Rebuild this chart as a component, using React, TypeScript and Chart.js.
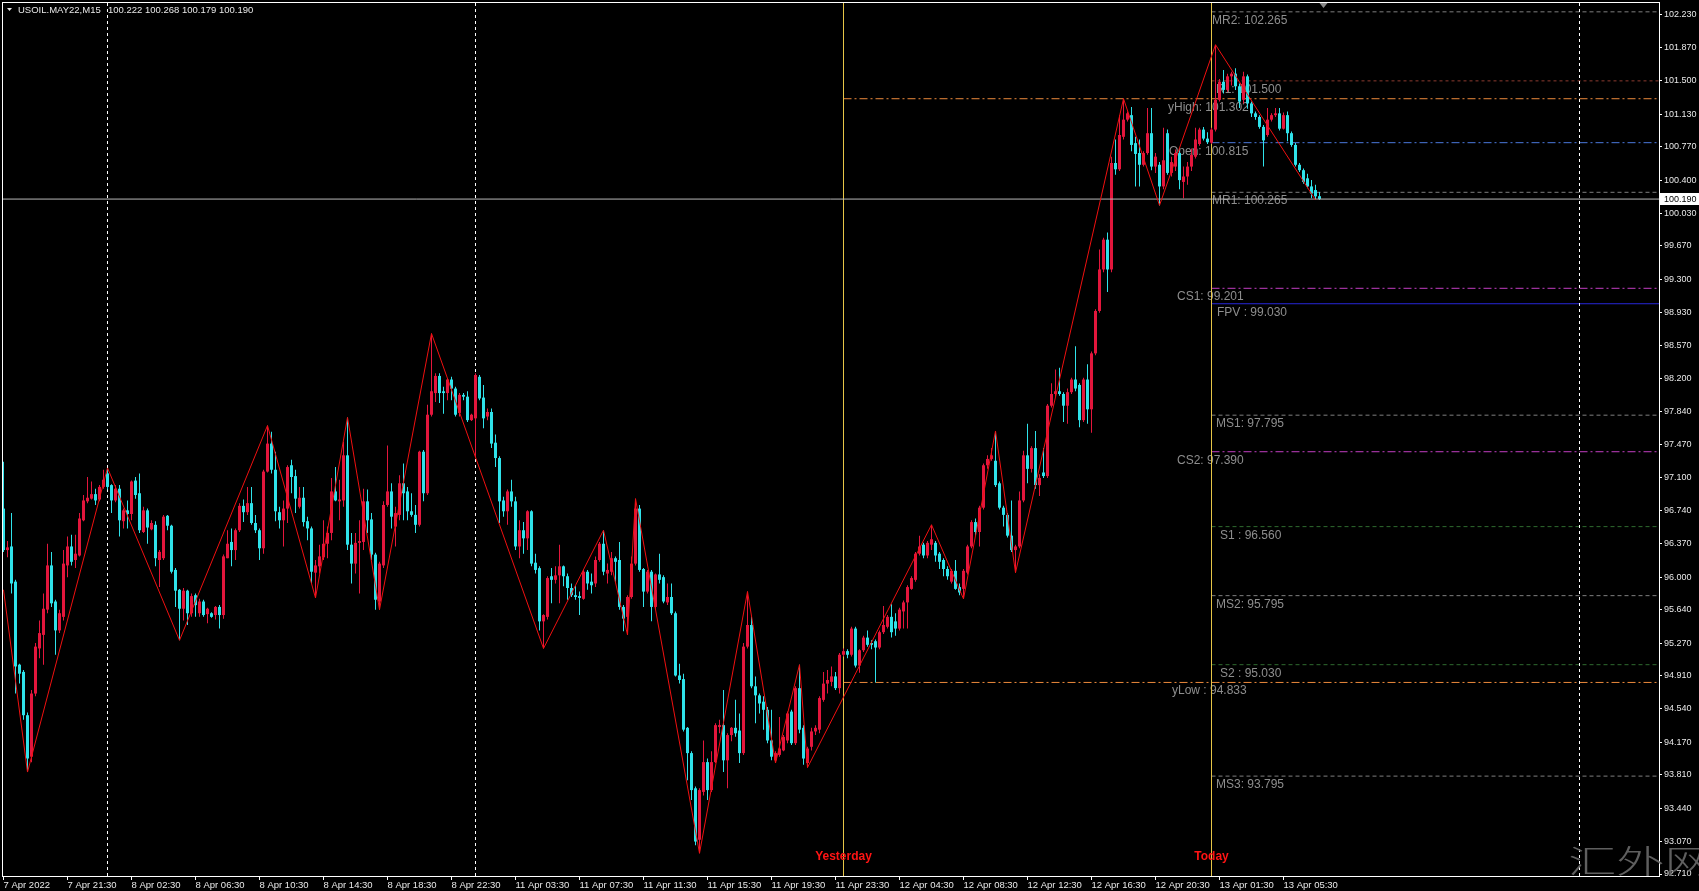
import React, { useEffect, useRef } from "react";
import { Chart, registerables } from "chart.js";

Chart.register(...registerables);

// ---------- DATA: M15 candles, [open, high, low, close] ----------
const bars7Apr: number[][] = [
  [96.76, 97.28, 96.28, 96.3], [96.3, 96.4, 96.22, 96.33], [96.34, 96.71, 95.82, 95.93], [95.95, 95.97, 94.71, 95.01],
  [95.03, 95.04, 94.82, 94.93], [94.95, 94.97, 94.42, 94.47], [94.47, 94.5, 93.84, 93.99], [94.01, 94.75, 93.95, 94.71],
  [94.71, 95.27, 94.68, 95.23], [95.21, 95.52, 95.1, 95.38], [95.36, 95.82, 95.03, 95.65], [95.64, 96.37, 95.6, 96.13],
  [96.13, 96.28, 95.67, 95.71], [95.73, 95.75, 95.14, 95.41], [95.41, 95.64, 95.38, 95.6], [95.56, 96.3, 95.52, 96.15],
  [96.13, 96.45, 96.0, 96.34], [96.34, 96.47, 96.13, 96.17], [96.19, 96.47, 96.1, 96.26], [96.24, 96.71, 96.23, 96.65],
  [96.63, 96.91, 96.62, 96.85], [96.84, 97.11, 96.82, 96.88], [96.87, 97.06, 96.86, 96.92], [96.92, 96.98, 96.8, 96.85],
  [96.86, 97.02, 96.84, 97.0], [97.0, 97.19, 96.98, 97.08],
];

const bars8Apr: number[][] = [
  [97.15, 97.21, 96.97, 97.0], [97.02, 97.03, 96.71, 96.85], [96.85, 97.02, 96.83, 96.98], [96.98, 97.02, 96.45, 96.63],
  [96.62, 96.76, 96.54, 96.74], [96.74, 96.85, 96.54, 96.7], [96.7, 97.07, 96.63, 97.06], [97.07, 97.11, 96.87, 96.91],
  [96.93, 97.15, 96.49, 96.52], [96.5, 96.78, 96.49, 96.74], [96.74, 96.76, 96.37, 96.55], [96.53, 96.63, 96.52, 96.6],
  [96.58, 96.62, 96.12, 96.21], [96.19, 96.3, 95.89, 96.28], [96.21, 96.69, 96.19, 96.67], [96.68, 96.69, 96.52, 96.57],
  [96.57, 96.58, 96.04, 96.06], [96.08, 96.1, 95.67, 95.85], [95.86, 95.87, 95.3, 95.65], [95.65, 95.88, 95.52, 95.85],
  [95.85, 95.86, 95.47, 95.6], [95.6, 95.82, 95.56, 95.79], [95.8, 95.82, 95.56, 95.69], [95.6, 95.76, 95.56, 95.73],
  [95.73, 95.75, 95.56, 95.58], [95.59, 95.66, 95.49, 95.65], [95.6, 95.61, 95.55, 95.56], [95.58, 95.68, 95.53, 95.67],
  [95.67, 95.69, 95.43, 95.58], [95.58, 96.25, 95.54, 96.23], [96.21, 96.52, 96.21, 96.37], [96.39, 96.54, 96.12, 96.3],
  [96.3, 96.54, 96.19, 96.52], [96.52, 96.82, 96.5, 96.79], [96.79, 96.86, 96.61, 96.72], [96.72, 97.0, 96.69, 96.82],
  [96.82, 97.0, 96.58, 96.6], [96.6, 96.69, 96.49, 96.52], [96.52, 96.54, 96.19, 96.32], [96.32, 97.19, 96.26, 97.17],
  [97.17, 97.68, 97.16, 97.48], [97.48, 97.61, 97.15, 97.19], [97.19, 97.39, 96.62, 96.73], [96.72, 96.78, 96.54, 96.63],
  [96.63, 96.85, 96.34, 96.76], [96.76, 97.24, 96.6, 97.22], [97.24, 97.3, 96.93, 97.11], [97.12, 97.19, 96.71, 96.87],
  [96.78, 97.0, 96.76, 96.88], [96.88, 97.0, 96.56, 96.61], [96.62, 96.67, 96.41, 96.54], [96.54, 96.56, 95.93, 96.06],
  [96.05, 96.19, 95.77, 96.13], [96.12, 96.36, 96.04, 96.23], [96.22, 96.63, 96.19, 96.37], [96.37, 96.56, 96.21, 96.49],
  [96.49, 97.1, 96.41, 96.95], [96.95, 97.22, 96.84, 96.85], [96.84, 97.08, 96.63, 96.86], [96.85, 97.5, 96.78, 97.35],
  [97.35, 97.77, 96.3, 96.36], [96.36, 96.49, 95.93, 96.15], [96.15, 96.49, 96.04, 96.38], [96.38, 96.63, 95.82, 96.4],
  [96.39, 96.98, 96.3, 96.84], [96.84, 96.97, 96.49, 96.63], [96.64, 96.71, 96.19, 96.25], [96.25, 96.27, 95.64, 95.75],
  [95.73, 96.17, 95.64, 96.15], [96.13, 96.84, 96.1, 96.8], [96.8, 97.46, 96.78, 96.95], [96.95, 97.04, 96.54, 96.67],
  [96.56, 96.78, 96.34, 96.71], [96.69, 97.13, 96.63, 97.04], [97.04, 97.26, 96.63, 96.93], [96.95, 97.0, 96.63, 96.73],
  [96.73, 96.93, 96.67, 96.69], [96.69, 96.8, 96.49, 96.58], [96.58, 97.4, 96.56, 97.39], [97.39, 97.41, 96.84, 96.93],
  [96.93, 97.91, 96.91, 97.8], [97.8, 98.7, 97.78, 98.06], [98.04, 98.26, 97.94, 98.23], [98.23, 98.26, 97.93, 98.04],
  [98.06, 98.11, 97.81, 98.04], [98.04, 98.2, 97.96, 98.19], [98.19, 98.22, 97.96, 98.09], [98.09, 98.11, 97.78, 97.8],
  [97.82, 98.04, 97.78, 98.02], [98.02, 98.04, 97.96, 98.0], [98.0, 98.06, 97.72, 97.74], [97.74, 97.81, 97.73, 97.8],
];

const bars11Apr: number[][] = [
  [97.76, 98.26, 97.33, 98.24], [98.22, 98.24, 97.96, 97.98], [97.99, 98.13, 97.65, 97.76], [97.78, 97.87, 97.74, 97.83],
  [97.83, 97.87, 97.43, 97.48], [97.49, 97.58, 97.22, 97.32], [97.32, 97.34, 96.6, 96.84], [96.85, 96.89, 96.67, 96.73],
  [96.73, 96.97, 96.58, 96.95], [96.95, 97.08, 96.78, 96.84], [96.84, 96.89, 96.3, 96.34], [96.34, 96.63, 96.21, 96.52],
  [96.52, 96.61, 96.26, 96.43], [96.43, 96.74, 96.3, 96.73], [96.73, 96.74, 96.12, 96.15], [96.16, 96.26, 96.04, 96.08],
  [96.1, 96.12, 95.41, 95.51], [95.51, 95.59, 95.21, 95.58], [95.56, 96.01, 95.53, 95.99], [96.01, 96.1, 95.71, 95.97],
  [95.97, 96.12, 95.93, 96.02], [96.02, 96.36, 95.71, 96.12], [96.12, 96.13, 95.9, 96.01], [96.01, 96.04, 95.75, 95.88],
  [95.88, 95.93, 95.78, 95.8], [95.8, 95.91, 95.75, 95.78], [95.79, 95.84, 95.58, 95.77], [95.76, 96.08, 95.75, 96.06],
  [96.06, 96.08, 95.86, 95.93], [95.95, 96.04, 95.82, 95.91], [95.93, 96.23, 95.89, 96.19], [96.19, 96.39, 96.17, 96.37],
  [96.37, 96.52, 96.02, 96.06], [96.04, 96.15, 95.93, 96.08], [96.06, 96.28, 96.02, 96.21], [96.21, 96.23, 95.95, 96.17],
  [96.19, 96.39, 95.64, 95.67], [95.67, 95.69, 95.4, 95.54], [95.56, 95.8, 95.36, 95.78], [95.78, 96.23, 95.76, 96.15],
  [96.15, 96.87, 96.13, 96.76], [96.76, 96.8, 96.06, 96.08], [96.09, 96.1, 95.67, 95.84], [95.84, 96.08, 95.82, 96.06],
  [96.06, 96.08, 95.51, 95.67], [95.67, 96.04, 95.65, 96.03], [96.03, 96.26, 95.93, 95.97], [96.0, 96.02, 95.71, 95.73],
  [95.72, 95.93, 95.69, 95.78], [95.78, 95.93, 95.58, 95.6], [95.6, 95.62, 94.9, 94.91], [94.91, 95.04, 94.82, 94.86],
  [94.87, 94.93, 94.29, 94.31], [94.33, 94.34, 93.75, 94.05], [94.05, 94.07, 93.53, 93.64], [93.66, 93.68, 93.03, 93.07],
  [93.09, 93.66, 92.94, 93.64], [93.62, 94.19, 93.58, 93.95], [93.95, 93.99, 93.53, 93.64], [93.64, 94.07, 93.62, 93.95],
  [93.95, 94.38, 93.94, 94.36], [94.34, 94.42, 94.27, 94.36], [94.36, 94.75, 93.84, 93.97], [93.97, 94.27, 93.66, 94.25],
  [94.25, 94.34, 94.18, 94.33], [94.33, 94.64, 94.23, 94.27], [94.3, 94.49, 93.94, 94.05], [94.05, 95.27, 94.03, 95.23],
  [95.23, 95.84, 95.21, 95.47], [95.47, 95.56, 94.77, 94.79], [94.79, 94.9, 94.38, 94.69], [94.69, 94.71, 94.49, 94.6],
  [94.62, 94.68, 94.31, 94.53], [94.53, 94.56, 94.16, 94.19], [94.19, 94.53, 93.97, 94.01], [93.97, 94.07, 93.94, 94.05],
  [94.03, 94.45, 94.01, 94.1], [94.08, 94.25, 94.07, 94.23], [94.19, 94.51, 94.16, 94.49], [94.51, 94.53, 94.14, 94.16],
  [94.16, 94.79, 94.14, 94.77], [94.77, 95.03, 94.27, 94.31], [94.33, 94.36, 93.92, 93.99], [93.94, 94.12, 93.89, 94.1],
  [94.12, 94.33, 94.08, 94.29], [94.29, 94.36, 94.25, 94.33], [94.31, 94.68, 94.27, 94.66], [94.64, 94.95, 94.62, 94.82],
  [94.82, 94.97, 94.71, 94.86], [94.84, 95.01, 94.79, 94.9], [94.9, 94.95, 94.75, 94.77], [94.77, 95.16, 94.71, 95.14],
];

const bars12Apr: number[][] = [
  [95.14, 95.21, 95.12, 95.18], [95.18, 95.2, 95.1, 95.14], [95.14, 95.45, 95.12, 95.43], [95.43, 95.45, 95.0, 95.02],
  [95.02, 95.2, 94.94, 95.19], [95.19, 95.35, 95.17, 95.33], [95.33, 95.41, 95.23, 95.25], [95.27, 95.3, 95.2, 95.25],
  [95.29, 95.31, 94.833, 95.22], [95.22, 95.41, 95.2, 95.39], [95.39, 95.68, 95.37, 95.47], [95.45, 95.58, 95.43, 95.56],
  [95.56, 95.7, 95.33, 95.39], [95.51, 95.6, 95.35, 95.43], [95.43, 95.66, 95.41, 95.64], [95.62, 95.74, 95.43, 95.72],
  [95.72, 95.91, 95.43, 95.89], [95.87, 96.01, 95.86, 95.99], [95.97, 96.28, 95.95, 96.26], [96.26, 96.46, 96.24, 96.34],
  [96.36, 96.38, 96.21, 96.24], [96.24, 96.4, 96.21, 96.38], [96.36, 96.58, 96.3, 96.42], [96.38, 96.4, 96.17, 96.24],
  [96.26, 96.28, 96.09, 96.17], [96.19, 96.21, 96.01, 96.09], [96.09, 96.12, 95.97, 96.01], [95.95, 96.09, 95.93, 96.07],
  [96.07, 96.19, 95.86, 95.87], [95.89, 95.93, 95.8, 95.83], [95.87, 96.09, 95.76, 96.07], [96.05, 96.36, 96.03, 96.34],
  [96.34, 96.63, 96.32, 96.61], [96.61, 96.65, 96.46, 96.5], [96.5, 96.79, 96.34, 96.77], [96.77, 97.26, 96.75, 97.24],
  [97.24, 97.35, 97.2, 97.31], [97.31, 97.43, 97.29, 97.35], [97.29, 97.62, 97.0, 97.02], [97.04, 97.06, 96.75, 96.77],
  [96.77, 96.79, 96.56, 96.69], [96.69, 96.71, 96.44, 96.46], [96.46, 96.85, 96.28, 96.3], [96.3, 96.36, 96.05, 96.34],
  [96.34, 96.95, 96.32, 96.85], [96.85, 97.4, 96.83, 97.35], [97.35, 97.7, 97.04, 97.2], [97.2, 97.45, 97.16, 97.43],
  [97.43, 97.62, 96.98, 97.02], [97.02, 97.14, 96.9, 97.1], [97.16, 97.43, 97.1, 97.12], [97.12, 97.92, 97.1, 97.9],
  [97.9, 98.15, 97.88, 98.03], [98.03, 98.3, 98.0, 98.06], [98.06, 98.32, 98.01, 98.03], [98.03, 98.05, 97.72, 97.9],
  [97.9, 98.09, 97.7, 98.05], [98.05, 98.21, 98.03, 98.19], [98.19, 98.56, 98.06, 98.09], [98.13, 98.15, 97.66, 97.74],
  [97.74, 98.21, 97.72, 98.19], [98.19, 98.36, 97.7, 97.86], [97.86, 98.5, 97.6, 98.48], [98.48, 98.97, 98.46, 98.95],
  [98.95, 99.63, 98.93, 99.41], [99.41, 99.76, 99.38, 99.74], [99.74, 99.82, 99.16, 99.41], [99.41, 100.66, 99.38, 100.59],
  [100.59, 100.85, 100.46, 100.52], [100.52, 101.12, 100.5, 100.9], [100.88, 101.302, 100.85, 101.07], [101.07, 101.16, 101.05, 101.14],
  [101.12, 101.21, 100.72, 100.79], [100.81, 100.88, 100.33, 100.69], [100.7, 100.85, 100.33, 100.57], [100.57, 100.72, 100.55, 100.7],
  [100.7, 101.2, 100.68, 100.92], [100.92, 101.2, 100.51, 100.55], [100.55, 100.7, 100.48, 100.66], [100.57, 100.6, 100.12, 100.33],
  [100.33, 100.98, 100.3, 100.62], [100.92, 100.96, 100.46, 100.48], [100.48, 100.66, 100.44, 100.6], [100.55, 100.74, 100.5, 100.7],
  [100.7, 100.72, 100.3, 100.4], [100.38, 100.55, 100.2, 100.44], [100.44, 100.6, 100.35, 100.55], [100.55, 100.75, 100.5, 100.68],
  [100.66, 100.98, 100.64, 100.85], [100.8, 100.98, 100.78, 100.96], [100.96, 100.99, 100.84, 100.86], [100.86, 100.93, 100.8, 100.82],
];

const bars13Apr: number[][] = [
  [100.815, 100.98, 100.8, 100.96], [100.96, 101.9, 100.94, 101.29], [101.29, 101.52, 101.27, 101.49], [101.49, 101.62, 101.36, 101.4],
  [101.4, 101.58, 101.38, 101.55], [101.55, 101.6, 101.45, 101.58], [101.58, 101.64, 101.4, 101.44], [101.44, 101.47, 101.2, 101.27],
  [101.29, 101.6, 101.25, 101.55], [101.55, 101.57, 101.19, 101.25], [101.25, 101.27, 101.1, 101.14], [101.14, 101.16, 101.07, 101.1],
  [101.1, 101.12, 100.97, 100.99], [100.99, 101.01, 100.55, 100.84], [100.9, 101.2, 100.88, 101.07], [101.07, 101.14, 101.05, 101.12],
  [101.12, 101.2, 101.1, 101.14], [101.14, 101.2, 100.95, 100.97], [100.97, 101.15, 100.96, 101.12], [101.12, 101.16, 100.83, 100.92],
  [100.92, 100.94, 100.77, 100.79], [100.79, 100.81, 100.55, 100.57], [100.57, 100.59, 100.49, 100.51], [100.51, 100.53, 100.36, 100.38],
  [100.42, 100.47, 100.31, 100.33], [100.33, 100.4, 100.2, 100.25], [100.29, 100.35, 100.18, 100.22], [100.222, 100.268, 100.179, 100.19],
];

const allBars: number[][] = [...bars7Apr, ...bars8Apr, ...bars11Apr, ...bars12Apr, ...bars13Apr];

// ZigZag vertices (bar index, price)
const zigzagIndex = [0, 6, 26, 44, 66, 78, 86, 94, 107, 135, 150, 156, 158, 174, 186, 193, 199, 201, 232, 240, 248, 253, 280, 289, 303, 328];
const zigzagPrice = [95.86, 93.84, 97.21, 95.3, 97.68, 95.77, 97.77, 95.64, 98.7, 95.21, 96.52, 95.36, 96.87, 92.94, 95.84, 93.94, 95.03, 93.89, 96.58, 95.76, 97.62, 96.05, 101.302, 100.12, 101.9, 100.18];

// Time axis labels
const xTickIndex = [0, 16, 32, 48, 64, 80, 96, 112, 128, 144, 160, 176, 192, 208, 224, 240, 256, 272, 288, 304, 320];
const xTickLabels = [
  "7 Apr 2022", "7 Apr 21:30", "8 Apr 02:30", "8 Apr 06:30", "8 Apr 10:30", "8 Apr 14:30", "8 Apr 18:30",
  "8 Apr 22:30", "11 Apr 03:30", "11 Apr 07:30", "11 Apr 11:30", "11 Apr 15:30", "11 Apr 19:30", "11 Apr 23:30",
  "12 Apr 04:30", "12 Apr 08:30", "12 Apr 12:30", "12 Apr 16:30", "12 Apr 20:30", "13 Apr 01:30", "13 Apr 05:30",
];

// Price axis labels
const yTickValues = [102.23, 101.87, 101.5, 101.13, 100.77, 100.4, 100.03, 99.67, 99.3, 98.93, 98.57, 98.2, 97.84, 97.47, 97.1, 96.74, 96.37, 96.0, 95.64, 95.27, 94.91, 94.54, 94.17, 93.81, 93.44, 93.07, 92.71];

// Pivot / level lines
const levelNames = ["MR2", "R1", "yHigh", "Open", "MR1", "CS1", "FPV", "MS1", "CS2", "S1", "MS2", "S2", "yLow", "MS3"];
const levelValues = [102.265, 101.5, 101.302, 100.815, 100.265, 99.201, 99.03, 97.795, 97.39, 96.56, 95.795, 95.03, 94.833, 93.795];
const levelLabels = ["MR2: 102.265", "R1: 101.500", "yHigh: 101.302", "Open: 100.815", "MR1: 100.265", "CS1: 99.201", "FPV : 99.030", "MS1: 97.795", "CS2: 97.390", "S1 : 96.560", "MS2: 95.795", "S2 : 95.030", "yLow : 94.833", "MS3: 93.795"];

const separatorIndex = [26, 118, 394];
const yesterdayIndex = 210;
const todayIndex = 302;
const dayLabels = ["Yesterday", "Today"];
const symbolTitle = "USOIL.MAY22,M15";
const titleOHLC = "100.222 100.268 100.179 100.190";
const bidPrice = 100.19;
const watermark = "汇外网";

// ---------- STYLES / LAYOUT ----------
const W = 1699;
const H = 891;
const X_MIN = -0.375;
const X_MAX = X_MIN + 1657 / 4;
const Y_MIN = 92.688;
const Y_MAX = 102.374;
const UP = "#e3163c";
const DOWN = "#2fe2ea";
const FONT = '"Liberation Sans", Arial, sans-serif';
const DASHDOT = [8, 3, 2, 3];

type LevelStyle = { color: string; dash: number[]; from: "today" | "yesterday"; labelDx: number };
const GRAY: Omit<LevelStyle, "labelDx"> = { color: "#7e7e7e", dash: [4, 3], from: "today" };
const levelStyle: Record<string, LevelStyle> = {
  MR2: { ...GRAY, labelDx: 0 },
  R1: { color: "#8c3a30", dash: [3, 3], from: "today", labelDx: 4 },
  yHigh: { color: "#ec8a3c", dash: DASHDOT, from: "yesterday", labelDx: -44 },
  Open: { color: "#4a78dc", dash: DASHDOT, from: "today", labelDx: -43 },
  MR1: { ...GRAY, labelDx: 0 },
  CS1: { color: "#c23ec2", dash: DASHDOT, from: "today", labelDx: -35 },
  FPV: { color: "#2626d8", dash: [], from: "today", labelDx: 5 },
  MS1: { ...GRAY, labelDx: 4 },
  CS2: { color: "#c23ec2", dash: DASHDOT, from: "today", labelDx: -35 },
  S1: { color: "#2f6a2f", dash: [4, 3], from: "today", labelDx: 8 },
  MS2: { ...GRAY, labelDx: 4 },
  S2: { color: "#2f6a2f", dash: [4, 3], from: "today", labelDx: 8 },
  yLow: { color: "#ec8a3c", dash: DASHDOT, from: "yesterday", labelDx: -40 },
  MS3: { ...GRAY, labelDx: 4 },
};

const overlayPlugin = {
  id: "mt4overlay",
  beforeDatasetsDraw(chart: any) {
    const { ctx, chartArea: a, scales } = chart;
    const xs = scales.x;
    const ys = scales.y;
    ctx.save();
    ctx.beginPath();
    ctx.rect(a.left, a.top, a.right - a.left, a.bottom - a.top);
    ctx.clip();
    ctx.font = `12px ${FONT}`;
    ctx.fillStyle = "#8e8e8e";
    ctx.textAlign = "left";
    ctx.textBaseline = "top";
    const tx = xs.getPixelForValue(todayIndex);
    levelNames.forEach((n, k) => {
      const st = levelStyle[n];
      ctx.fillText(levelLabels[k], Math.round(tx + st.labelDx), Math.round(ys.getPixelForValue(levelValues[k])) + 3);
    });
    ctx.restore();
  },
  afterDraw(chart: any) {
    const { ctx, chartArea: a, scales } = chart;
    const xs = scales.x;
    const ys = scales.y;
    ctx.save();
    // frame
    ctx.strokeStyle = "#ffffff";
    ctx.lineWidth = 1;
    ctx.strokeRect(a.left + 0.5, a.top + 0.5, a.right - a.left, a.bottom - a.top);

    // title
    ctx.fillStyle = "#e8e8e8";
    ctx.beginPath();
    ctx.moveTo(7, 8);
    ctx.lineTo(12, 8);
    ctx.lineTo(9.5, 11);
    ctx.closePath();
    ctx.fill();
    ctx.font = `9.5px ${FONT}`;
    ctx.textAlign = "left";
    ctx.textBaseline = "middle";
    ctx.fillText(symbolTitle, 18, 10.5);
    ctx.fillText(titleOHLC, 108, 10.5);

    // Yesterday / Today
    ctx.font = `bold 12px ${FONT}`;
    ctx.fillStyle = "#ff1414";
    ctx.textAlign = "center";
    ctx.fillText(dayLabels[0], xs.getPixelForValue(yesterdayIndex), a.bottom - 19);
    ctx.fillText(dayLabels[1], xs.getPixelForValue(todayIndex), a.bottom - 19);

    // chart shift marker
    const sx = xs.getPixelForValue(allBars.length);
    ctx.fillStyle = "#8a8a8a";
    ctx.beginPath();
    ctx.moveTo(sx - 4, a.top + 1);
    ctx.lineTo(sx + 4, a.top + 1);
    ctx.lineTo(sx, a.top + 6);
    ctx.closePath();
    ctx.fill();

    // bid price box
    const by = Math.round(ys.getPixelForValue(bidPrice));
    ctx.fillStyle = "#ffffff";
    ctx.fillRect(a.right + 1, by - 6, W - a.right - 1, 12);
    ctx.fillStyle = "#000000";
    ctx.font = `9px ${FONT}`;
    ctx.textAlign = "left";
    ctx.textBaseline = "middle";
    ctx.fillText(bidPrice.toFixed(3), a.right + 5, by + 0.5);

    // watermark (stretched horizontally)
    ctx.font = `300 32px "Noto Sans CJK SC", sans-serif`;
    const mw = ctx.measureText(watermark).width || 96;
    ctx.translate(1568, 861);
    ctx.scale(145 / mw, 1);
    ctx.fillStyle = "rgba(105,105,105,0.9)";
    ctx.textAlign = "left";
    ctx.textBaseline = "middle";
    ctx.fillText(watermark, 0, 0);
    ctx.restore();
  },
};

export default function App() {
  const canvasRef = useRef<HTMLCanvasElement | null>(null);

  useEffect(() => {
    const canvas = canvasRef.current;
    if (!canvas) return;

    const colors = allBars.map((b) => (b[3] >= b[0] ? UP : DOWN));
    const xLabelMap: Record<number, string> = {};
    xTickIndex.forEach((v, k) => (xLabelMap[v] = xTickLabels[k]));

    const levelDatasets = levelNames.map((n, k) => {
      const st = levelStyle[n];
      const start = st.from === "today" ? todayIndex : yesterdayIndex;
      return {
        type: "line" as const,
        data: [
          { x: start, y: levelValues[k] },
          { x: X_MAX, y: levelValues[k] },
        ],
        borderColor: st.color,
        borderWidth: 1,
        borderDash: st.dash,
        pointRadius: 0,
        fill: false,
        tension: 0,
        order: 10,
      };
    });

    const vLine = (x: number, color: string, dash: number[]) => ({
      type: "line" as const,
      data: [
        { x, y: Y_MIN },
        { x, y: Y_MAX },
      ],
      borderColor: color,
      borderWidth: 1,
      borderDash: dash,
      pointRadius: 0,
      fill: false,
      tension: 0,
      order: 9,
    });

    const chart = new Chart(canvas, {
      type: "bar",
      data: {
        datasets: [
          ...levelDatasets,
          ...separatorIndex.map((x) => vLine(x, "#ffffff", [3, 3])),
          vLine(yesterdayIndex, "#e6c547", []),
          vLine(todayIndex, "#e6c547", []),
          {
            type: "bar" as const,
            data: allBars.map((b, i) => ({ x: i, y: [b[2], b[1]] })) as any,
            backgroundColor: colors,
            borderWidth: 0,
            barThickness: 1,
            grouped: false,
            inflateAmount: 0,
            minBarLength: 1,
            order: 5,
          },
          {
            type: "bar" as const,
            data: allBars.map((b, i) => ({ x: i, y: [Math.min(b[0], b[3]), Math.max(b[0], b[3])] })) as any,
            backgroundColor: colors,
            borderWidth: 0,
            barThickness: 3,
            grouped: false,
            inflateAmount: 0,
            minBarLength: 1,
            order: 4,
          },
          {
            type: "line" as const,
            data: [
              { x: X_MIN, y: bidPrice },
              { x: X_MAX, y: bidPrice },
            ],
            borderColor: "#b8b8b8",
            borderWidth: 1,
            pointRadius: 0,
            fill: false,
            order: 2,
          },
          {
            type: "line" as const,
            data: zigzagIndex.map((x, k) => ({ x, y: zigzagPrice[k] })),
            borderColor: "#f01010",
            borderWidth: 1,
            pointRadius: 0,
            fill: false,
            tension: 0,
            order: 1,
          },
        ] as any,
      },
      options: {
        responsive: false,
        animation: false,
        devicePixelRatio: 1,
        events: [],
        layout: { padding: { left: 2, top: 2, right: 0, bottom: 0 } },
        plugins: { legend: { display: false }, tooltip: { enabled: false } },
        scales: {
          x: {
            type: "linear",
            min: X_MIN,
            max: X_MAX,
            offset: false,
            grid: { drawOnChartArea: false, drawTicks: true, tickLength: 4, color: "#ffffff", offset: false },
            border: { display: false },
            ticks: {
              align: "start",
              maxRotation: 0,
              minRotation: 0,
              autoSkip: false,
              padding: 0,
              color: "#e8e8e8",
              font: { family: FONT, size: 9.5 },
              callback: (v: any) => xLabelMap[Number(v)] ?? "",
            },
            afterBuildTicks: (s: any) => {
              s.ticks = xTickIndex.map((v) => ({ value: v }));
            },
            afterFit: (s: any) => {
              s.height = 15;
              s.paddingLeft = 0;
              s.paddingRight = 0;
            },
          },
          y: {
            type: "linear",
            position: "right",
            min: Y_MIN,
            max: Y_MAX,
            beginAtZero: false,
            grid: { drawOnChartArea: false, drawTicks: true, tickLength: 3, color: "#ffffff" },
            border: { display: false },
            ticks: {
              autoSkip: false,
              padding: 2,
              color: "#e8e8e8",
              font: { family: FONT, size: 9 },
              callback: (v: any) => Number(v).toFixed(3),
            },
            afterBuildTicks: (s: any) => {
              s.ticks = yTickValues.map((v) => ({ value: v }));
            },
            afterFit: (s: any) => {
              s.width = 40;
              s.paddingTop = 0;
              s.paddingBottom = 0;
            },
          },
        },
      } as any,
      plugins: [overlayPlugin],
    });

    return () => chart.destroy();
  }, []);

  return (
    <div style={{ position: "fixed", left: 0, top: 0, width: W, height: H, background: "#000", overflow: "hidden" }}>
      <canvas ref={canvasRef} width={W} height={H} style={{ display: "block", width: W, height: H }} />
    </div>
  );
}
